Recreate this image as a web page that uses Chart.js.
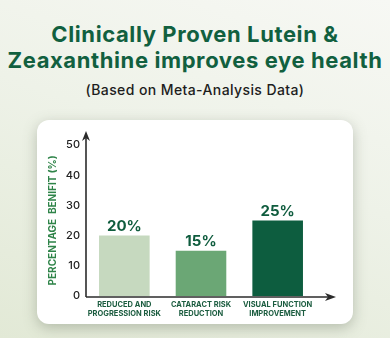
<!DOCTYPE html>
<html>
<head>
<meta charset="utf-8">
<script src="https://cdn.jsdelivr.net/npm/chart.js@4.4.0/dist/chart.umd.min.js"></script>
<style>
  html, body { margin: 0; padding: 0; }
  body {
    width: 390px; height: 338px; overflow: hidden; position: relative;
    background: linear-gradient(200deg, #f7f8f4 0%, #eef2e8 45%, #e2e9d6 100%);
    font-family: "Inter", "DejaVu Sans", sans-serif;
  }
  .title {
    position: absolute; left: 0; top: 21px; width: 390px;
    text-align: center; color: #11603f; font-weight: 700;
    font-size: 22px; line-height: 26px; letter-spacing: 0.6px;
  }
  .sub {
    position: absolute; left: 0; top: 81px; width: 390px;
    text-align: center; color: #1d1d1d; font-weight: 500; font-size: 14px;
    letter-spacing: 0.4px;
  }
  .card {
    position: absolute; left: 37px; top: 120px; width: 316px; height: 204px;
    background: #fff; border-radius: 12px;
    box-shadow: 0 4px 14px rgba(90, 100, 80, 0.35);
  }
  canvas { display: block; }
</style>
</head>
<body>
<div class="title">Clinically Proven Lutein &amp;<br>Zeaxanthine improves eye health</div>
<div class="sub">(Based on Meta-Analysis Data)</div>
<div class="card"><canvas id="myChart" width="316" height="204"></canvas></div>
<script>
// données
const categories = [
  ['REDUCED AND', 'PROGRESSION RISK'],
  ['CATARACT RISK', 'REDUCTION'],
  ['VISUAL FUNCTION', 'IMPROVEMENT']
];
const benefit = [20, 15, 25];
const valueLabels = ['20%', '15%', '25%'];
const yTicks = [0, 10, 20, 30, 40, 50];
const barColors = ['#c6d9bf', '#6ba775', '#0d5d3f'];

// axes avec flèches + valeurs au dessus des barres
const arrowAxes = {
  id: 'arrowAxes',
  afterDraw(chart) {
    const c = chart.ctx;
    const a = chart.chartArea;
    c.save();
    c.strokeStyle = '#2b2b2b';
    c.fillStyle = '#2b2b2b';
    c.lineWidth = 1.6;
    // axe y
    c.beginPath();
    c.moveTo(a.left, a.bottom + 1);
    c.lineTo(a.left, a.top - 10);
    c.stroke();
    c.beginPath();
    c.moveTo(a.left, a.top - 14);
    c.lineTo(a.left - 4, a.top - 4);
    c.lineTo(a.left, a.top - 7);
    c.lineTo(a.left + 4, a.top - 4);
    c.closePath();
    c.fill();
    // axe x
    c.beginPath();
    c.moveTo(a.left, a.bottom + 1);
    c.lineTo(a.right + 14, a.bottom + 1);
    c.stroke();
    c.beginPath();
    c.moveTo(a.right + 20, a.bottom + 1);
    c.lineTo(a.right + 9, a.bottom - 3);
    c.lineTo(a.right + 12, a.bottom + 1);
    c.lineTo(a.right + 9, a.bottom + 5);
    c.closePath();
    c.fill();
    // étiquettes
    const meta = chart.getDatasetMeta(0);
    c.font = '700 15px Inter, "DejaVu Sans", sans-serif';
    c.fillStyle = '#0f5c3e';
    c.textAlign = 'center';
    c.textBaseline = 'bottom';
    meta.data.forEach((bar, i) => {
      c.fillText(valueLabels[i], bar.x, bar.y - 2);
    });
    c.restore();
  }
};

const ctx = document.getElementById('myChart');
new Chart(ctx, {
  type: 'bar',
  data: {
    labels: categories,
    datasets: [{
      data: benefit,
      backgroundColor: barColors,
      barPercentage: 0.66,
      categoryPercentage: 1
    }]
  },
  options: {
    responsive: false,
    animation: false,
    layout: { padding: { left: 10, right: 37, top: 25, bottom: 0 } },
    plugins: {
      legend: { display: false },
      tooltip: { enabled: false },
      title: { display: false }
    },
    scales: {
      x: {
        grid: { display: false, drawTicks: false },
        border: { display: false },
        ticks: {
          color: '#1b5c3f',
          padding: 5,
          maxRotation: 0,
          autoSkip: false,
          font: { family: 'Inter, "DejaVu Sans", sans-serif', size: 7.5, weight: '700', lineHeight: 1.1 }
        },
        afterFit(scale) { scale.height = 28; }
      },
      y: {
        min: 0,
        max: 50,
        afterBuildTicks(scale) { scale.ticks = yTicks.map(v => ({ value: v })); },
        grid: { display: false, drawTicks: false },
        border: { display: false },
        ticks: {
          color: '#222',
          padding: 6,
          font: { family: 'Inter, "DejaVu Sans", sans-serif', size: 11, weight: '500' }
        },
        title: {
          display: true,
          text: 'PERCENTAGE  BENIFIT (%)',
          color: '#2f8449',
          padding: { top: 0, bottom: 4 },
          font: { family: 'Inter, "DejaVu Sans", sans-serif', size: 10, weight: '700' }
        },
        afterFit(scale) { scale.width = 39; }
      }
    }
  },
  plugins: [arrowAxes]
});
</script>
</body>
</html>
